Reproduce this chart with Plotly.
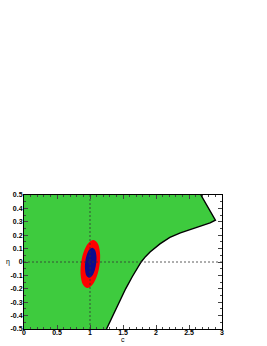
import plotly.graph_objects as go

# Allowed-region boundary (c, eta)
boundary_c = [1.25, 1.345, 1.44, 1.54, 1.64, 1.715, 1.775, 1.84, 1.91, 2.06, 2.21, 2.37, 2.52, 2.67, 2.82, 2.90, 2.68]
boundary_eta = [-0.5, -0.40, -0.30, -0.20, -0.11, -0.045, 0.0, 0.04, 0.075, 0.135, 0.183, 0.218, 0.243, 0.266, 0.292, 0.312, 0.5]

# Red (outer) contour
red_c = [1.147, 1.15, 1.115, 1.05, 0.973, 0.904, 0.863, 0.86, 0.895, 0.96, 1.037, 1.105, 1.147]
red_eta = [-0.015, 0.075, 0.14, 0.164, 0.14, 0.075, -0.015, -0.105, -0.17, -0.194, -0.17, -0.105, -0.015]

# Blue (inner) contour
blue_c = [1.095, 1.096, 1.073, 1.034, 0.989, 0.949, 0.926, 0.926, 0.947, 0.987, 1.033, 1.072, 1.095]
blue_eta = [-0.005, 0.051, 0.092, 0.107, 0.092, 0.051, -0.005, -0.061, -0.102, -0.117, -0.102, -0.061, -0.005]

x_ticks = [0, 0.5, 1, 1.5, 2, 2.5, 3]
x_labels = ["0", "0.5", "1", "1.5", "2", "2.5", "3"]
y_ticks = [-0.5, -0.4, -0.3, -0.2, -0.1, 0, 0.1, 0.2, 0.3, 0.4, 0.5]
y_labels = ["-0.5", "-0.4", "-0.3", "-0.2", "-0.1", "0", "0.1", "0.2", "0.3", "0.4", "0.5"]

X_MIN, X_MAX = 0, 3
Y_MIN, Y_MAX = -0.5, 0.5

fig = go.Figure()

# green allowed region polygon
green_x = [X_MIN] + boundary_c + [X_MIN, X_MIN]
green_y = [Y_MIN] + boundary_eta + [Y_MAX, Y_MIN]
fig.add_trace(go.Scatter(x=green_x, y=green_y, mode="lines", fill="toself",
                         fillcolor="#3ecb3e", line=dict(width=0), hoverinfo="skip"))
# boundary line
fig.add_trace(go.Scatter(x=boundary_c, y=boundary_eta, mode="lines",
                         line=dict(color="black", width=1.4), hoverinfo="skip"))
fig.add_trace(go.Scatter(x=red_c, y=red_eta, mode="lines", fill="toself", fillcolor="#ff0000",
                         line=dict(width=0, shape="spline"), hoverinfo="skip"))
fig.add_trace(go.Scatter(x=blue_c, y=blue_eta, mode="lines", fill="toself", fillcolor="#0c0c8c",
                         line=dict(width=0, shape="spline"), hoverinfo="skip"))

# dashed reference lines
fig.add_shape(type="line", x0=1, x1=1, y0=Y_MIN, y1=Y_MAX, xref="x", yref="y",
              line=dict(color="#333", width=0.8, dash="2px,2px"))
fig.add_shape(type="line", x0=X_MIN, x1=X_MAX, y0=0, y1=0, xref="x", yref="y",
              line=dict(color="#333", width=0.8, dash="2px,2px"))

tickfont = dict(family="Liberation Sans, Arial", size=7, color="black", weight="bold")
fig.update_xaxes(range=[X_MIN, X_MAX], tickvals=x_ticks, ticktext=x_labels, ticks="inside",
                 ticklen=4, tickwidth=0.8, showline=True, linecolor="black", linewidth=1,
                 mirror="allticks", showgrid=False, zeroline=False, tickfont=tickfont,
                 automargin=False, ticklabelstandoff=-3,
                 minor=dict(dtick=0.1, ticks="inside", ticklen=2, tickwidth=0.6, showgrid=False))
fig.update_yaxes(range=[Y_MIN, Y_MAX], tickvals=y_ticks, ticktext=y_labels, ticks="inside",
                 ticklen=4, tickwidth=0.8, showline=True, linecolor="black", linewidth=1,
                 mirror="allticks", showgrid=False, zeroline=False, tickfont=tickfont,
                 automargin=False, ticklabelstandoff=-1,
                 minor=dict(dtick=0.05, ticks="inside", ticklen=2, tickwidth=0.6, showgrid=False))

fig.add_annotation(text="c", xref="paper", yref="paper", x=0.5, y=0, yshift=-10,
                   yanchor="middle", showarrow=False,
                   font=dict(family="Liberation Sans, Arial", size=7, color="black"))
fig.add_annotation(text="η", xref="paper", yref="paper", x=0, y=0.5, xshift=-16,
                   xanchor="center", showarrow=False,
                   font=dict(family="Liberation Sans, Arial", size=7, color="black"))

fig.update_layout(width=267, height=346, margin=dict(l=24, r=45, t=195, b=17),
                  plot_bgcolor="white", paper_bgcolor="white", showlegend=False,
                  font=dict(color="black"))

fig.write_html("out.html", config={"displayModeBar": False},
               post_script="document.body.style.margin='0px';")
